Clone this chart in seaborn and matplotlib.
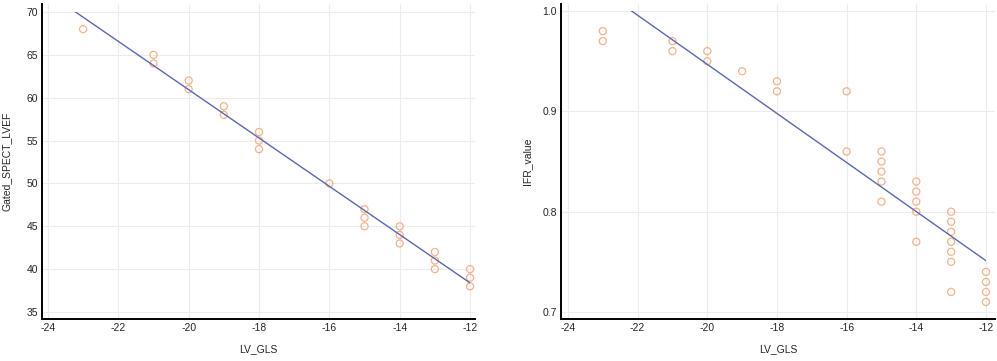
import numpy as np
import pandas as pd
import seaborn as sns
import matplotlib.pyplot as plt
import matplotlib.patches as mpatches
from matplotlib.ticker import MultipleLocator

# 左パネル: LV_GLS vs Gated_SPECT_LVEF
gls_a = [-23, -21, -21, -20, -20, -19, -19, -18, -18, -18, -16,
         -15, -15, -15, -14, -14, -14, -13, -13, -13, -12, -12, -12]
lvef = [68, 65, 64, 62, 61, 59, 58, 56, 55, 54, 50,
        47, 46, 45, 45, 44, 43, 42, 41, 40, 40, 39, 38]

# 右パネル: LV_GLS vs IFR_value
gls_b = [-23, -23, -21, -21, -20, -20, -19, -18, -18, -16, -16,
         -15, -15, -15, -15, -15, -14, -14, -14, -14, -14,
         -13, -13, -13, -13, -13, -13, -13, -12, -12, -12, -12]
ifr = [0.98, 0.97, 0.97, 0.96, 0.96, 0.95, 0.94, 0.93, 0.92, 0.92, 0.86,
       0.86, 0.85, 0.84, 0.83, 0.81, 0.83, 0.82, 0.81, 0.80, 0.77,
       0.80, 0.79, 0.78, 0.77, 0.76, 0.75, 0.72, 0.74, 0.73, 0.72, 0.71]

df_a = pd.DataFrame({"LV_GLS": gls_a, "Gated_SPECT_LVEF": lvef})
df_b = pd.DataFrame({"LV_GLS": gls_b, "IFR_value": ifr})

sns.set_style("white")
plt.rcParams["font.family"] = ["Liberation Sans", "DejaVu Sans"]
plt.rcParams["font.size"] = 7.5

ORANGE = "#F0A070"
BLUE = "#5A68AE"

fig = plt.figure(figsize=(9.97, 3.61), dpi=100)
ax1 = fig.add_axes([0.0421, 0.1163, 0.4343, 0.8726])
ax2 = fig.add_axes([0.5627, 0.1163, 0.4353, 0.8726])


def draw_panel(ax, df, ycol, xlim, ylim, yrange, ystep, label_x):
    ax.set_xlim(*xlim)
    ax.set_ylim(*ylim)
    sns.regplot(
        data=df, x="LV_GLS", y=ycol, ax=ax, ci=None, truncate=False,
        scatter_kws=dict(s=26, facecolors="none", edgecolors=ORANGE, linewidths=0.9),
        line_kws=dict(color=BLUE, lw=1.0),
    )
    # 回帰直線は目盛り範囲内だけ描く
    clip = mpatches.Rectangle((-24, yrange[0]), 12, yrange[1] - yrange[0],
                              transform=ax.transData)
    ax.lines[-1].set_clip_path(clip)
    ax.set_xlim(*xlim)
    ax.set_ylim(*ylim)

    ax.xaxis.set_major_locator(MultipleLocator(2))
    ax.xaxis.set_minor_locator(MultipleLocator(1))
    ax.yaxis.set_major_locator(MultipleLocator(ystep))
    ax.grid(True, which="major", color="#ececec", lw=0.8)
    ax.set_axisbelow(True)
    sns.despine(ax=ax)
    for s in ("left", "bottom"):
        ax.spines[s].set_color("black")
        ax.spines[s].set_linewidth(1.4)
    ax.tick_params(which="major", direction="in", length=6, width=0.9,
                   color="black", labelsize=7.5, pad=3)
    ax.tick_params(which="minor", direction="in", length=3, width=0.8, color="#444444")
    ax.tick_params(axis="y", which="minor", length=0)
    ax.set_xlabel("LV_GLS", fontsize=7.5)
    ax.set_ylabel(ycol, fontsize=7.5)
    ax.xaxis.set_label_coords(0.5, -0.08)
    ax.yaxis.set_label_coords(label_x, 0.5)


draw_panel(ax1, df_a, "Gated_SPECT_LVEF", (-24.17, -11.86), (34.18, 70.93),
           (35, 70), 5, -0.07)
ax1.set_yticks(np.arange(35, 71, 5))
ax1.set_ylim(34.18, 70.93)

draw_panel(ax2, df_b, "IFR_value", (-24.2, -11.74), (0.693, 1.007),
           (0.7, 1.0), 0.1, -0.066)
ax2.set_yticks([0.7, 0.8, 0.9, 1.0])
ax2.set_yticklabels(["0.7", "0.8", "0.9", "1.0"])
ax2.set_ylim(0.693, 1.007)

for ax in (ax1, ax2):
    ax.set_xticks(np.arange(-24, -11, 2))
    ax.set_xticklabels([str(v) for v in range(-24, -11, 2)])

fig.savefig("out.png", dpi=100)
